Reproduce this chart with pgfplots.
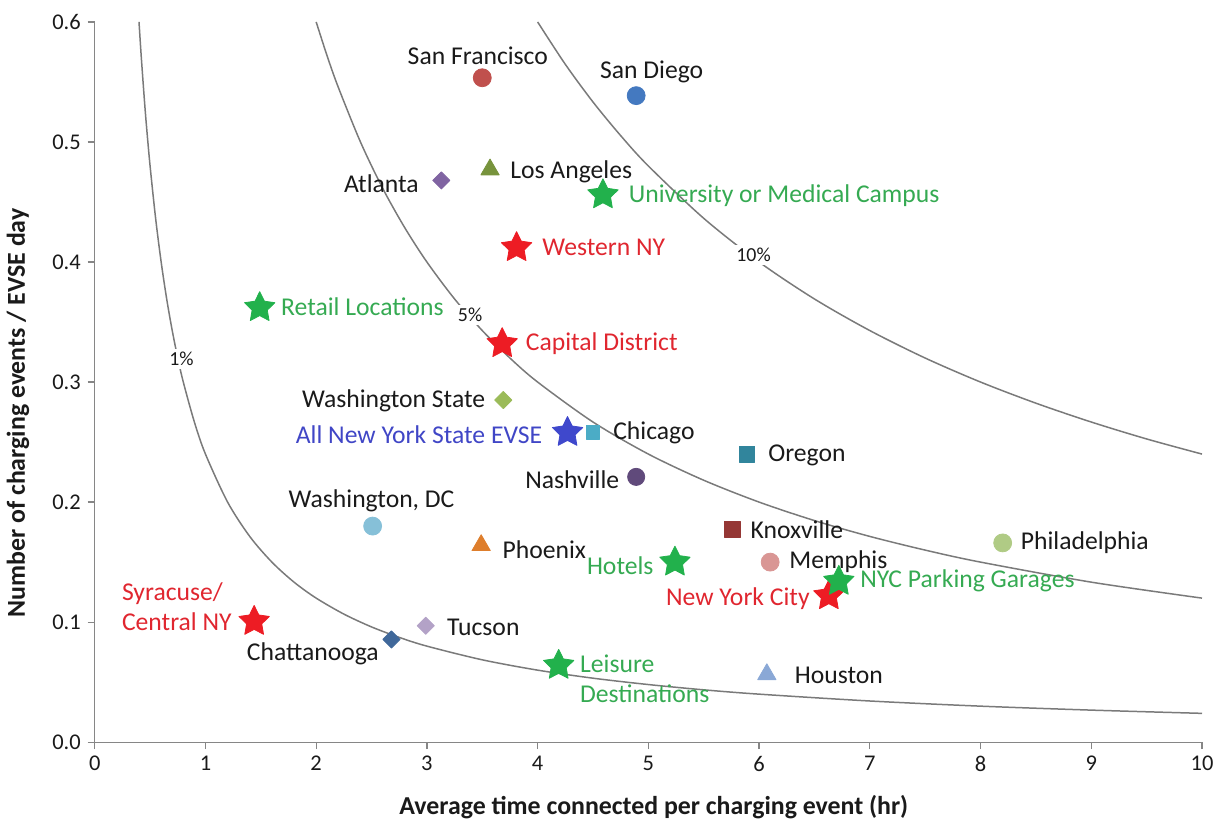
\documentclass[border=0pt]{standalone}
\usepackage{fontspec}
\setmainfont{Carlito}
\usepackage{pgfplots}
\pgfplotsset{compat=1.18}

\definecolor{axgray}{HTML}{868686}
\definecolor{curvegray}{HTML}{7A7A7A}
\definecolor{txtblack}{HTML}{1A1A1A}
\definecolor{stargreen}{HTML}{22B14C}
\definecolor{starred}{HTML}{ED1C24}
\definecolor{starblue}{HTML}{3F48CC}
\definecolor{txtgreen}{HTML}{35AA52}
\definecolor{txtred}{HTML}{E0262F}
\definecolor{txtblue}{HTML}{4046C6}
\definecolor{cSF}{HTML}{C0504D}
\definecolor{cSD}{HTML}{4479C0}
\definecolor{cLA}{HTML}{77933C}
\definecolor{cATL}{HTML}{8064A2}
\definecolor{cWAS}{HTML}{9BBB59}
\definecolor{cCHI}{HTML}{4BACC6}
\definecolor{cORE}{HTML}{31859C}
\definecolor{cNASH}{HTML}{604A7B}
\definecolor{cDC}{HTML}{86C0D8}
\definecolor{cKNOX}{HTML}{953735}
\definecolor{cPHIL}{HTML}{B0CB85}
\definecolor{cPHX}{HTML}{DE7E2C}
\definecolor{cMEM}{HTML}{D99694}
\definecolor{cTUC}{HTML}{B3A2C7}
\definecolor{cCHA}{HTML}{40689A}
\definecolor{cHOU}{HTML}{8AA8D6}

% filled five-pointed star
\pgfdeclareplotmark{fstar}{%
  \pgfpathmoveto{\pgfpointpolar{90}{\pgfplotmarksize}}%
  \pgfpathlineto{\pgfpointpolar{126}{0.5\pgfplotmarksize}}%
  \pgfpathlineto{\pgfpointpolar{162}{\pgfplotmarksize}}%
  \pgfpathlineto{\pgfpointpolar{198}{0.5\pgfplotmarksize}}%
  \pgfpathlineto{\pgfpointpolar{234}{\pgfplotmarksize}}%
  \pgfpathlineto{\pgfpointpolar{270}{0.5\pgfplotmarksize}}%
  \pgfpathlineto{\pgfpointpolar{306}{\pgfplotmarksize}}%
  \pgfpathlineto{\pgfpointpolar{342}{0.5\pgfplotmarksize}}%
  \pgfpathlineto{\pgfpointpolar{18}{\pgfplotmarksize}}%
  \pgfpathlineto{\pgfpointpolar{54}{0.5\pgfplotmarksize}}%
  \pgfpathclose
  \pgfusepathqfillstroke}
% square diamond
\pgfdeclareplotmark{rdiamond}{%
  \pgfpathmoveto{\pgfqpoint{0pt}{\pgfplotmarksize}}%
  \pgfpathlineto{\pgfqpoint{\pgfplotmarksize}{0pt}}%
  \pgfpathlineto{\pgfqpoint{0pt}{-\pgfplotmarksize}}%
  \pgfpathlineto{\pgfqpoint{-\pgfplotmarksize}{0pt}}%
  \pgfpathclose
  \pgfusepathqfillstroke}

\tikzset{
	lbl/.style={font=\fontsize{12.9}{15}\selectfont,text=txtblack,inner sep=0pt},
	pct/.style={font=\fontsize{10}{11}\selectfont,text=txtblack,fill=white,inner sep=1.5pt},
}

\begin{document}
\begin{tikzpicture}
\begin{axis}[
	scale only axis,width=555bp,height=361bp,
	xmin=0,xmax=10,ymin=0,ymax=0.6,
	clip=false,
	axis x line*=bottom,axis y line*=left,
	axis line style={axgray,line width=0.6bp},
	tick style={axgray,line width=0.6bp},
	tick align=outside,major tick length=3.5bp,
	xtick={0,1,2,3,4,5,6,7,8,9,10},
	ytick={0,0.1,0.2,0.3,0.4,0.5,0.6},
	yticklabel style={/pgf/number format/.cd,fixed,fixed zerofill,precision=1},
	/pgf/number format/assume math mode=true,
	tick label style={font=\fontsize{11.3}{13}\selectfont,text=txtblack},
	xlabel={Average time connected per charging event (hr)},
	ylabel={Number of charging events / EVSE day},
	label style={font=\bfseries\fontsize{13}{15}\selectfont,text=txtblack},
	xlabel style={at={(axis description cs:0.505,-0.0905)},anchor=center},
	ylabel style={at={(axis description cs:-0.0694,0.457)},anchor=center},
	every axis plot/.append style={line join=round},
]
% utilisation curves
\addplot[curvegray,line width=0.75bp,smooth] coordinates {
	(0.4,0.6) (0.42,0.5714) (0.45,0.5333) (0.47,0.5106) (0.5,0.48) (0.55,0.4364)
	(0.6,0.4) (0.65,0.3692) (0.7,0.3429) (0.75,0.32) (0.8,0.3) (0.9,0.2667)
	(1.0,0.24) (1.2,0.2) (1.4,0.1714) (1.6,0.15) (1.8,0.1333) (2.0,0.12)
	(2.25,0.1067) (2.5,0.096) (2.75,0.0873) (3,0.08) (3.5,0.0686) (4,0.06)
	(4.5,0.0533) (5,0.048) (5.5,0.0436) (6,0.04) (7,0.0343) (8,0.03) (9,0.0267) (10,0.024)};
\addplot[curvegray,line width=0.75bp,smooth] coordinates {
	(2,0.6) (2.1,0.5714) (2.2,0.5455) (2.4,0.5) (2.6,0.4615) (2.8,0.4286)
	(3,0.4) (3.25,0.3692) (3.5,0.3429) (3.75,0.32) (4,0.3) (4.5,0.2667)
	(5,0.24) (5.5,0.2182) (6,0.2) (6.5,0.1846) (7,0.1714) (7.5,0.16)
	(8,0.15) (9,0.1333) (10,0.12)};
\addplot[curvegray,line width=0.75bp,smooth] coordinates {
	(4,0.6) (4.25,0.5647) (4.5,0.5333) (4.75,0.5053) (5,0.48) (5.5,0.4364)
	(6,0.4) (6.5,0.3692) (7,0.3429) (7.5,0.32) (8,0.3) (8.5,0.2824)
	(9,0.2667) (9.5,0.2526) (10,0.24)};
\node[pct] at (axis cs:0.784,0.319) {1\%};
\node[pct] at (axis cs:3.39,0.3557) {5\%};
\node[pct] at (axis cs:5.95,0.4056) {10\%};

% cities
\addplot[only marks,mark=*,mark size=4.5bp,draw=cSF,fill=cSF] coordinates {(3.50,0.5535)};
\addplot[only marks,mark=*,mark size=4.5bp,draw=cSD,fill=cSD] coordinates {(4.89,0.5386)};
\addplot[only marks,mark=triangle*,mark size=5.3bp,draw=cLA,fill=cLA] coordinates {(3.57,0.477)};
\addplot[only marks,mark=rdiamond,mark size=4.3bp,draw=cATL,fill=cATL] coordinates {(3.13,0.468)};
\addplot[only marks,mark=rdiamond,mark size=4.3bp,draw=cWAS,fill=cWAS] coordinates {(3.69,0.285)};
\addplot[only marks,mark=square*,mark size=3.3bp,draw=cCHI,fill=cCHI] coordinates {(4.50,0.258)};
\addplot[only marks,mark=square*,mark size=4bp,draw=cORE,fill=cORE] coordinates {(5.89,0.240)};
\addplot[only marks,mark=*,mark size=4.3bp,draw=cNASH,fill=cNASH] coordinates {(4.89,0.221)};
\addplot[only marks,mark=*,mark size=4.5bp,draw=cDC,fill=cDC] coordinates {(2.51,0.180)};
\addplot[only marks,mark=square*,mark size=4bp,draw=cKNOX,fill=cKNOX] coordinates {(5.76,0.177)};
\addplot[only marks,mark=*,mark size=4.5bp,draw=cPHIL,fill=cPHIL] coordinates {(8.20,0.166)};
\addplot[only marks,mark=triangle*,mark size=5.3bp,draw=cPHX,fill=cPHX] coordinates {(3.49,0.164)};
\addplot[only marks,mark=*,mark size=4.5bp,draw=cMEM,fill=cMEM] coordinates {(6.10,0.150)};
\addplot[only marks,mark=rdiamond,mark size=4.3bp,draw=cTUC,fill=cTUC] coordinates {(2.99,0.097)};
\addplot[only marks,mark=rdiamond,mark size=4.3bp,draw=cCHA,fill=cCHA] coordinates {(2.68,0.0856)};
\addplot[only marks,mark=triangle*,mark size=5.3bp,draw=cHOU,fill=cHOU] coordinates {(6.07,0.0565)};

% New York State groups
\addplot[only marks,mark=fstar,mark size=8bp,draw=stargreen,fill=stargreen] coordinates {(4.59,0.456) (1.49,0.362) (5.24,0.150) (4.19,0.064)};
\addplot[only marks,mark=fstar,mark size=8bp,draw=starred,fill=starred] coordinates {(3.81,0.412) (3.68,0.332) (6.63,0.122) (1.44,0.1006)};
\addplot[only marks,mark=fstar,mark size=8bp,draw=stargreen,fill=stargreen] coordinates {(6.72,0.134)};
\addplot[only marks,mark=fstar,mark size=8bp,draw=starblue,fill=starblue] coordinates {(4.27,0.258)};

% labels
\node[lbl] at (axis cs:3.46,0.572) {San Francisco};
\node[lbl] at (axis cs:5.03,0.558) {San Diego};
\node[lbl,anchor=west] at (axis cs:3.75,0.475) {Los Angeles};
\node[lbl,anchor=east] at (axis cs:2.93,0.465) {Atlanta};
\node[lbl,anchor=west,text=txtgreen] at (axis cs:4.82,0.455) {University or Medical Campus};
\node[lbl,anchor=west,text=txtred] at (axis cs:4.04,0.412) {Western NY};
\node[lbl,anchor=west,text=txtgreen] at (axis cs:1.68,0.363) {Retail Locations};
\node[lbl,anchor=west,text=txtred] at (axis cs:3.89,0.332) {Capital District};
\node[lbl,anchor=east] at (axis cs:3.53,0.284) {Washington State};
\node[lbl,anchor=east,text=txtblue] at (axis cs:4.045,0.256) {All New York State EVSE};
\node[lbl,anchor=west] at (axis cs:4.68,0.258) {Chicago};
\node[lbl,anchor=west] at (axis cs:6.08,0.2385) {Oregon};
\node[lbl,anchor=east] at (axis cs:4.74,0.219) {Nashville};
\node[lbl] at (axis cs:2.50,0.201) {Washington, DC};
\node[lbl,anchor=west] at (axis cs:5.92,0.177) {Knoxville};
\node[lbl,anchor=west] at (axis cs:8.36,0.166) {Philadelphia};
\node[lbl,anchor=west] at (axis cs:3.68,0.160) {Phoenix};
\node[lbl,anchor=west] at (axis cs:6.27,0.150) {Memphis};
\node[lbl,anchor=east,text=txtgreen] at (axis cs:5.05,0.147) {Hotels};
\node[lbl,anchor=west,text=txtgreen] at (axis cs:6.91,0.1347) {NYC Parking Garages};
\node[lbl,anchor=east,text=txtred] at (axis cs:6.46,0.1197) {New York City};
\node[lbl,anchor=west,text=txtred,align=left] at (axis cs:0.243,0.113) {Syracuse/\\Central NY};
\node[lbl,anchor=west] at (axis cs:3.18,0.0956) {Tucson};
\node[lbl] at (axis cs:1.97,0.074) {Chattanooga};
\node[lbl,anchor=west,text=txtgreen,align=left] at (axis cs:4.38,0.053) {Leisure\\Destinations};
\node[lbl,anchor=west] at (axis cs:6.32,0.0557) {Houston};
\coordinate (bl) at (rel axis cs:0,0);
\end{axis}
\path (bl) ++(-47bp,-38.5bp) rectangle ++(610bp,410.5bp);
\end{tikzpicture}
\end{document}
